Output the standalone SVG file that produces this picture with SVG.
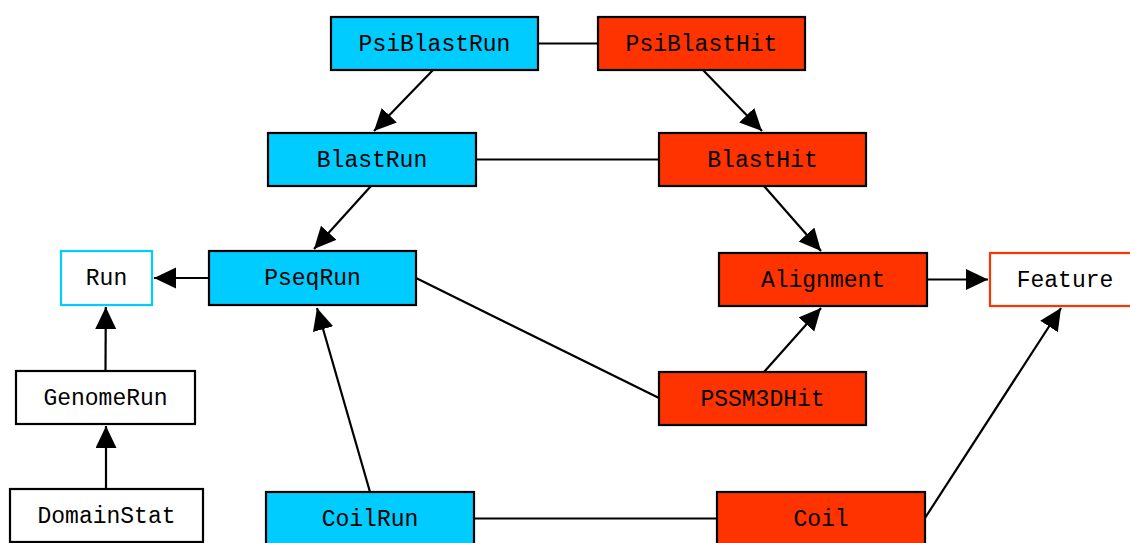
<svg xmlns="http://www.w3.org/2000/svg" width="1130" height="543" viewBox="0 0 1130 543">
<style>
rect{stroke-width:2.2}
.c{fill:#00ccff;stroke:#000}
.r{fill:#ff3300;stroke:#000}
.w{fill:#fff;stroke:#000}
.wc{fill:#fff;stroke:#00ccff}
.wr{fill:#fff;stroke:#ff3300}
text{font-family:"Liberation Mono","Courier New",monospace;font-size:23px;text-anchor:middle;fill:#000}
#edges line{stroke:#000;stroke-width:2.2;fill:none}
</style>
<defs>
<marker id="a" markerUnits="userSpaceOnUse" markerWidth="24" markerHeight="22" refX="22" refY="10.5" orient="auto"><path d="M0,0 L22,10.5 L0,21 z" fill="#000"/></marker>
</defs>
<rect width="1130" height="543" fill="#fff"/>
<g id="edges">
<line x1="538" y1="43.5" x2="598" y2="43.5"/>
<line x1="433" y1="70" x2="374" y2="131" marker-end="url(#a)"/>
<line x1="703" y1="70" x2="762" y2="131" marker-end="url(#a)"/>
<line x1="476" y1="159.5" x2="659" y2="159.5"/>
<line x1="371" y1="186" x2="314" y2="249" marker-end="url(#a)"/>
<line x1="764" y1="186" x2="821" y2="251" marker-end="url(#a)"/>
<line x1="209" y1="278" x2="154" y2="278" marker-end="url(#a)"/>
<line x1="927" y1="279.5" x2="988" y2="279.5" marker-end="url(#a)"/>
<line x1="416" y1="278" x2="659" y2="398"/>
<line x1="764" y1="372" x2="821" y2="308" marker-end="url(#a)"/>
<line x1="105.5" y1="371" x2="105.8" y2="307" marker-end="url(#a)"/>
<line x1="106" y1="489" x2="106" y2="426" marker-end="url(#a)"/>
<line x1="370" y1="492" x2="317" y2="308" marker-end="url(#a)"/>
<line x1="474" y1="518.5" x2="717" y2="518.5"/>
<line x1="925" y1="518" x2="1061" y2="308" marker-end="url(#a)"/>
</g>
<g id="PsiBlastRun"><rect class="c" x="331" y="17" width="207" height="53"/><text x="434.5" y="51">PsiBlastRun</text></g>
<g id="PsiBlastHit"><rect class="r" x="598" y="17" width="207" height="53"/><text x="701.5" y="51">PsiBlastHit</text></g>
<g id="BlastRun"><rect class="c" x="268" y="133" width="208" height="53"/><text x="372" y="167">BlastRun</text></g>
<g id="BlastHit"><rect class="r" x="659" y="133" width="207" height="53"/><text x="762.5" y="167">BlastHit</text></g>
<g id="Run"><rect class="wc" x="61" y="251" width="91" height="54"/><text x="106.5" y="285">Run</text></g>
<g id="PseqRun"><rect class="c" x="209" y="251" width="207" height="54"/><text x="312.5" y="285">PseqRun</text></g>
<g id="Alignment"><rect class="r" x="719" y="253" width="208" height="53"/><text x="823" y="287">Alignment</text></g>
<g id="Feature"><rect class="wr" x="990" y="253" width="150" height="53"/><text x="1065" y="287">Feature</text></g>
<g id="GenomeRun"><rect class="w" x="16" y="371" width="179" height="53"/><text x="105.5" y="405">GenomeRun</text></g>
<g id="PSSM3DHit"><rect class="r" x="659" y="372" width="207" height="53"/><text x="762.5" y="406">PSSM3DHit</text></g>
<g id="DomainStat"><rect class="w" x="10" y="489" width="193" height="53"/><text x="106.5" y="523">DomainStat</text></g>
<g id="CoilRun"><rect class="c" x="266" y="492" width="208" height="56"/><text x="370" y="526">CoilRun</text></g>
<g id="Coil"><rect class="r" x="717" y="492" width="208" height="56"/><text x="821" y="526">Coil</text></g>
</svg>
